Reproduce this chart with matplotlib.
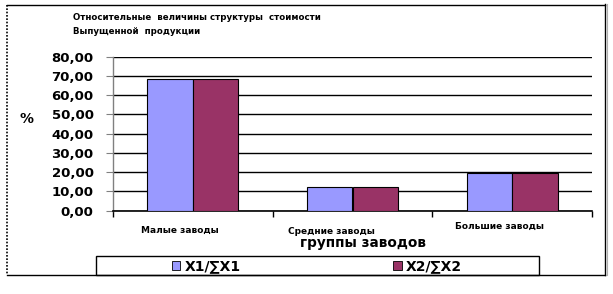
import matplotlib
matplotlib.use("Agg")
import matplotlib.pyplot as plt
import matplotlib.transforms as mtransforms
from matplotlib.lines import Line2D
from matplotlib.patches import Rectangle, Patch
import numpy as np

plt.rcParams['font.family'] = ['DejaVu Sans']
plt.rcParams['font.weight'] = 'bold'

categories = ["Малые заводы", "Средние заводы", "Большие заводы"]
series_names = ["X1/∑X1", "X2/∑X2"]
x1_share = [68.3, 12.2, 19.6]
x2_share = [68.3, 12.2, 19.6]
yticks = [0, 10, 20, 30, 40, 50, 60, 70, 80]
ytick_labels = ["0,00", "10,00", "20,00", "30,00", "40,00", "50,00", "60,00", "70,00", "80,00"]
colors = ["#9999FF", "#993366"]

W, H = 613, 294
fig = plt.figure(figsize=(W / 100, H / 100), dpi=100)

def fx(px):
    return px / W

def fy(py):
    return 1 - py / H

ax = fig.add_axes([fx(113), fy(210.7), fx(592) - fx(113), fy(56.7) - fy(210.7)])

xpos = np.arange(len(categories))
bw = 0.284
ax.bar(xpos - bw / 2, x1_share, bw, color=colors[0], edgecolor='black', linewidth=0.8, zorder=3)
ax.bar(xpos + bw / 2, x2_share, bw, color=colors[1], edgecolor='black', linewidth=0.8, zorder=3)

ax.set_xlim(-0.5, len(categories) - 0.5)
ax.set_ylim(0, 80)
ax.set_yticks(yticks)
ax.set_yticklabels(ytick_labels, fontsize=9.5, fontweight='bold')
ax.yaxis.grid(True, color='black', linewidth=1.0, zorder=0)
ax.set_axisbelow(True)
ax.tick_params(axis='y', length=5, width=0.8, color='#808080', pad=9)

for s in ['top', 'right']:
    ax.spines[s].set_visible(False)
ax.spines['left'].set_color('#808080')
ax.spines['left'].set_linewidth(1.0)
ax.spines['bottom'].set_color('black')
ax.spines['bottom'].set_linewidth(1.2)

ax.set_xticks(np.arange(len(categories) + 1) - 0.5)
ax.set_xticklabels([])
ax.tick_params(axis='x', which='major', length=4, width=1, color='black')
ax.set_xticks(xpos, minor=True)
ax.set_xticklabels(categories, minor=True, fontsize=6.5, fontweight='bold')
ax.tick_params(axis='x', which='minor', length=0, pad=11)
offsets = [(-13, 0), (-21, -1), (-13, 4)]
for lbl, (dx, dy) in zip(ax.xaxis.get_minorticklabels(), offsets):
    lbl.set_transform(lbl.get_transform() + mtransforms.ScaledTranslation(dx / 100, dy / 100, fig.dpi_scale_trans))

# Title
fig.text(fx(73), fy(17.5), "Относительные  величины структуры  стоимости", fontsize=6.2,
         fontweight='bold', ha='left', va='center')
fig.text(fx(73), fy(31), "Выпущенной  продукции", fontsize=6.2,
         fontweight='bold', ha='left', va='center')

# Y label
fig.text(fx(27), fy(118.5), "%", fontsize=10, fontweight='bold', ha='center', va='center')

# X axis title
fig.text(fx(363), fy(243), "группы заводов", fontsize=9.8, fontweight='bold', ha='center', va='center')

# Outer frame
fig.add_artist(Line2D([fx(7), fx(7)], [fy(5), fy(275)], color='black', linewidth=1.2, linestyle=(0, (1, 1))))
fig.add_artist(Line2D([fx(7), fx(605)], [fy(275), fy(275)], color='black', linewidth=1.0))
fig.add_artist(Line2D([fx(605), fx(605)], [fy(275), fy(4)], color='black', linewidth=1.0))
fig.add_artist(Line2D([fx(606.5), fx(606.5)], [fy(275), fy(4)], color='#b0b0b0', linewidth=0.8))
fig.add_artist(Line2D([fx(7), fx(605)], [fy(5), fy(5)], color='black', linewidth=1.0))

# Legend box
fig.add_artist(Rectangle((fx(95.7), fy(275)), fx(538.7) - fx(95.7), fy(256) - fy(275),
                         facecolor='white', edgecolor='black', linewidth=1.0))
handles = [Patch(facecolor=colors[0], edgecolor='black', linewidth=0.6),
           Patch(facecolor=colors[1], edgecolor='black', linewidth=0.6)]
leg = fig.legend(handles, series_names, loc='center', bbox_to_anchor=(fx(317), fy(266.5)),
                 ncol=2, frameon=False, prop={'weight': 'bold', 'size': 10},
                 handlelength=0.6, handleheight=0.6, handletextpad=0.3, columnspacing=11.0,
                 borderpad=0, borderaxespad=0)

fig.savefig("out.png", dpi=100)
